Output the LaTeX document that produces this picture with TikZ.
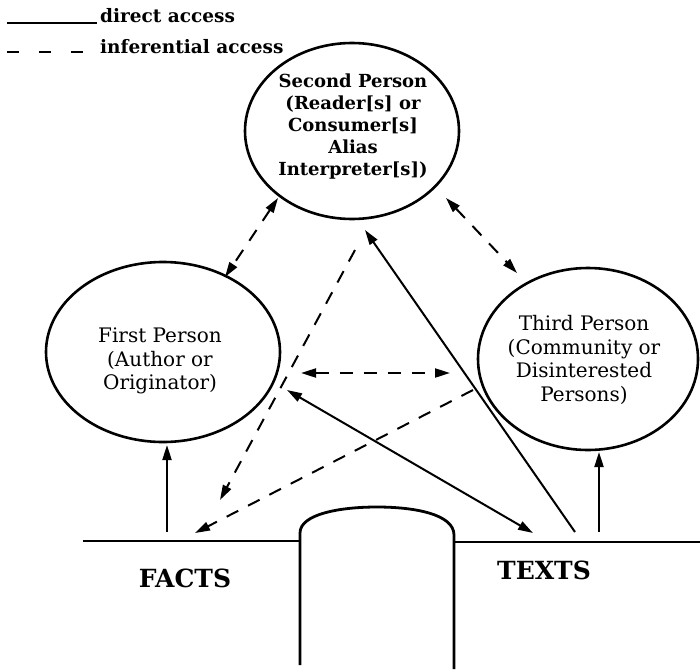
\documentclass[tikz,border=0pt]{standalone}
\usepackage{fontspec}
\setmainfont{DejaVu Serif}
\usetikzlibrary{arrows.meta,shapes.geometric}
\begin{document}
\begin{tikzpicture}[x=1pt,y=-1pt,
  person/.style={draw,ellipse,line width=2.6pt,inner sep=0pt},
  ptext/.style={align=center,font=\fontsize{20}{23.5}\selectfont},
  ptextb/.style={align=center,font=\bfseries\fontsize{18}{22}\selectfont},
  ground/.style={line width=2.8pt},
  conn/.style={line width=2pt,-{Triangle[length=15pt,width=9pt]}},
  conn2/.style={line width=2pt,{Triangle[length=15pt,width=9pt]}-{Triangle[length=15pt,width=9pt]}},
  dsh/.style={dash pattern=on 13pt off 11pt},
  legtext/.style={anchor=base west,font=\bfseries\fontsize{18.5}{20}\selectfont,inner sep=0pt},
  bigtext/.style={font=\bfseries\fontsize{25}{28}\selectfont}]
\useasboundingbox (0,0) rectangle (700,669);

% legend
\coordinate (l1a) at (7,23);
\coordinate (l1b) at (97,23);
\coordinate (l2a) at (7,52);
\coordinate (l2b) at (86,52);
\draw[line width=2pt] (l1a) -- (l1b);
\draw[line width=2.2pt,dash pattern=on 12pt off 20pt] (l2a) -- (l2b);
\node[legtext] (leg1) at (100,23) {direct access};
\node[legtext] (leg2) at (100,53) {inferential access};

% persons
\node[person,minimum width=214pt,minimum height=176pt] (second) at (352,131) {};
\node[ptextb] (secondtxt) at (353,127) {Second Person\\(Reader[s] or\\Consumer[s]\\Alias\\Interpreter[s])};
\node[person,minimum width=234pt,minimum height=180pt] (first) at (163,352) {};
\node[ptext] (firsttxt) at (160,361) {First Person\\(Author or\\Originator)};
\node[person,minimum width=220pt,minimum height=182pt] (third) at (588,359) {};
\node[ptext] (thirdtxt) at (584,360) {Third Person\\(Community or\\Disinterested\\Persons)};

% ground and bump
\coordinate (gl0) at (83,541);
\coordinate (gl1) at (300,541);
\coordinate (gr0) at (454,542);
\coordinate (gr1) at (700,542);
\draw[ground] (gl0) -- (gl1);
\draw[ground] (gr0) -- (gr1);
\draw[ground] (300,665) -- (300,533) .. controls (300,514) and (340,507) .. (377,507)
  .. controls (414,507) and (454,514) .. (454,535) -- (454,669);
\node[bigtext] (facts) at (185,578) {FACTS};
\node[bigtext] (texts) at (544,570) {TEXTS};

% connector end points
\coordinate (f0) at (167,532);
\coordinate (f1) at (167,445);
\coordinate (t0) at (599,532);
\coordinate (t1) at (599,452);
\coordinate (s1a) at (278,198);
\coordinate (s1b) at (225,277);
\coordinate (s3a) at (446,198);
\coordinate (s3b) at (517,273);
\coordinate (h0) at (301,373);
\coordinate (h1) at (450,373);
\coordinate (ft0) at (287,390);
\coordinate (ft1) at (533,533);
\coordinate (ts0) at (575,532);
\coordinate (ts1) at (365,230);
\coordinate (sf0) at (355,250);
\coordinate (sf1) at (220,500);
\coordinate (tf0) at (473,390);
\coordinate (tf1) at (195,533);

% connectors
\draw[conn] (f0) -- (f1);
\draw[conn] (t0) -- (t1);
\draw[conn2,dsh] (s1a) -- (s1b);
\draw[conn2,dsh] (s3a) -- (s3b);
\draw[conn2,dsh] (h0) -- (h1);
\draw[conn2] (ft0) -- (ft1);
\draw[conn] (ts0) -- (ts1);
\draw[conn,dsh] (sf0) -- (sf1);
\draw[conn,dsh] (tf0) -- (tf1);
\end{tikzpicture}
\end{document}
